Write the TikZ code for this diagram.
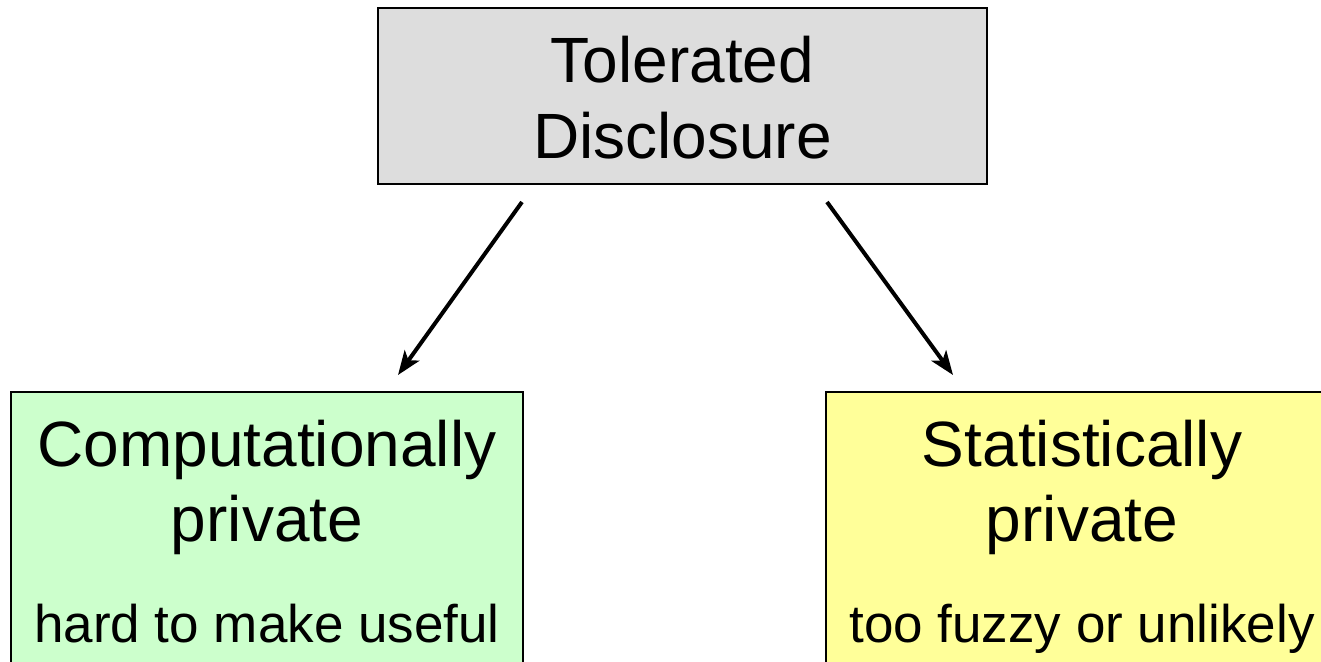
\documentclass[tikz,border=0pt]{standalone}
\usepackage{fontspec}
\setmainfont{Liberation Sans}
\usetikzlibrary{arrows.meta}
\definecolor{boxgray}{HTML}{DDDDDD}
\definecolor{boxgreen}{HTML}{CCFFCC}
\definecolor{boxyellow}{HTML}{FFFF99}
\begin{document}
\begin{tikzpicture}[x=1pt,y=-1pt,
  box/.style={draw=black, line width=2.5pt, rectangle, inner sep=0pt},
  big/.style={font=\fontsize{64}{76}\selectfont, anchor=base, inner sep=0pt},
  small/.style={font=\fontsize{53}{64}\selectfont, anchor=base, inner sep=0pt},
  arr/.style={line width=4pt, -{Stealth[length=24pt,width=18pt,inset=6pt]}}]
\useasboundingbox (0,0) rectangle (1321,661);
\clip (0,0) rectangle (1321,661);
% boxes
\node[box, fill=boxgray, minimum width=609pt, minimum height=176pt] (top) at (682.5,96) {};
\node[box, fill=boxgreen, minimum width=512pt, minimum height=300pt] (left) at (267,542) {};
\node[box, fill=boxyellow, minimum width=512pt, minimum height=300pt] (right) at (1082,542) {};
% texts
\node[big] (t1) at (682.5,82) {Tolerated};
\node[big] (t2) at (682.5,158) {Disclosure};
\node[big] (l1) at (267,466) {Computationally};
\node[big] (l2) at (267,541) {private};
\node[small] (l3) at (267,642) {hard to make useful};
\node[big] (r1) at (1082,466) {Statistically};
\node[big] (r2) at (1082,541) {private};
\node[small] (r3) at (1082,642) {too fuzzy or unlikely};
% arrows
\coordinate (a1s) at (522,202);
\coordinate (a1e) at (398,375);
\coordinate (a2s) at (827,202);
\coordinate (a2e) at (953,375);
\draw[arr] (a1s) -- (a1e);
\draw[arr] (a2s) -- (a2e);
\end{tikzpicture}
\end{document}
